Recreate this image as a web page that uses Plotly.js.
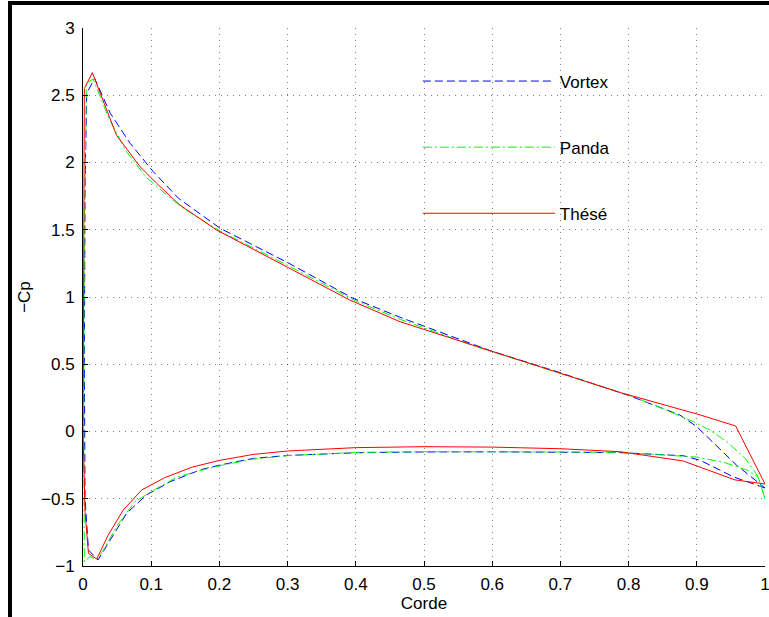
<!DOCTYPE html>
<html>
<head>
<meta charset="utf-8">
<script src="https://cdn.plot.ly/plotly-3.0.1.min.js"></script>
<style>
  html, body { margin: 0; padding: 0; background: #fff; }
  #wrap { position: relative; width: 769px; height: 617px; overflow: hidden; }
  #chart { position: absolute; left: 0; top: 0; width: 769px; height: 617px; }
  #frameL { position: absolute; left: 8px; top: 1px; width: 4px; height: 616px; background: #000; }
  #frameT { position: absolute; left: 8px; top: 1px; width: 761px; height: 4px; background: #000; }
</style>
</head>
<body>
<div id="wrap">
  <div id="chart"></div>
  <div id="frameL"></div>
  <div id="frameT"></div>
</div>
<script>
// ---- Data ----
const seriesNames = ["Vortex", "Panda", "Thésé"];

const vortexX = [1.0, 0.954, 0.905, 0.88, 0.787, 0.7, 0.6, 0.5, 0.4, 0.3, 0.25, 0.2, 0.172, 0.128, 0.093, 0.064, 0.04, 0.022, 0.008, 0.003, 0.002, 0.003, 0.0054, 0.017, 0.04, 0.069, 0.103, 0.14, 0.201, 0.3, 0.396, 0.465, 0.597, 0.695, 0.802, 0.875, 0.9, 0.958, 1.0];
const vortexY = [-0.42, -0.338, -0.214, -0.18, -0.157, -0.153, -0.151, -0.152, -0.158, -0.178, -0.2, -0.25, -0.285, -0.373, -0.472, -0.608, -0.807, -0.955, -0.881, -0.5, 0.5, 1.8, 2.514, 2.626, 2.366, 2.143, 1.932, 1.734, 1.511, 1.256, 0.99, 0.849, 0.601, 0.445, 0.264, 0.123, 0.036, -0.249, -0.42];

const pandaX = [1.0, 0.99, 0.975, 0.94, 0.9, 0.787, 0.7, 0.6, 0.5, 0.4, 0.3, 0.25, 0.2, 0.172, 0.137, 0.106, 0.076, 0.05, 0.03, 0.02, 0.01, 0.002, 0.001, 0.002, 0.005, 0.015, 0.037, 0.062, 0.093, 0.12, 0.147, 0.201, 0.3, 0.4, 0.465, 0.577, 0.699, 0.807, 0.861, 0.895, 0.919, 0.944, 0.971, 0.99, 1.0];
const pandaY = [-0.5, -0.34, -0.29, -0.23, -0.19, -0.155, -0.152, -0.15, -0.15, -0.155, -0.18, -0.205, -0.255, -0.29, -0.341, -0.43, -0.522, -0.7, -0.88, -0.95, -0.93, -0.97, 0.08, 1.5, 2.59, 2.62, 2.34, 2.093, 1.888, 1.771, 1.659, 1.49, 1.235, 0.97, 0.834, 0.63, 0.433, 0.259, 0.147, 0.073, 0.011, -0.076, -0.199, -0.336, -0.5];

const theseX = [1.0, 0.956, 0.88, 0.787, 0.7, 0.6, 0.5, 0.4, 0.3, 0.25, 0.2, 0.16, 0.12, 0.086, 0.059, 0.037, 0.02, 0.008, 0.003, 0.0, 0.001, 0.002, 0.0137, 0.049, 0.0836, 0.108, 0.142, 0.196, 0.3, 0.391, 0.465, 0.6, 0.699, 0.787, 0.905, 0.957, 1.0];
const theseY = [-0.39, -0.36, -0.219, -0.15, -0.128, -0.116, -0.113, -0.12, -0.145, -0.17, -0.215, -0.265, -0.343, -0.435, -0.584, -0.77, -0.948, -0.906, -0.6, 0.0, 1.2, 2.55, 2.668, 2.204, 1.969, 1.845, 1.684, 1.498, 1.221, 0.978, 0.816, 0.595, 0.433, 0.291, 0.123, 0.041, -0.39];

const xTickVals = [0, 0.1, 0.2, 0.3, 0.4, 0.5, 0.6, 0.7, 0.8, 0.9, 1];
const xTickText = ["0", "0.1", "0.2", "0.3", "0.4", "0.5", "0.6", "0.7", "0.8", "0.9", "1"];
const yTickVals = [-1, -0.5, 0, 0.5, 1, 1.5, 2, 2.5, 3];
const yTickText = ["\u22121", "\u22120.5", "0", "0.5", "1", "1.5", "2", "2.5", "3"];

const FONT = "'Liberation Sans', Arial, Helvetica, sans-serif";
const FS = 17;

const traces = [
  { x: vortexX, y: vortexY, name: seriesNames[0], legendgroup: "a", mode: "lines",
    line: { color: "#0000ff", width: 1, dash: "8px,4px" } },
  { x: pandaX, y: pandaY, name: seriesNames[1], legendgroup: "b", mode: "lines",
    line: { color: "#00ff00", width: 1, dash: "9px,3px,2px,3px" } },
  { x: theseX, y: theseY, name: seriesNames[2], legendgroup: "c", mode: "lines",
    line: { color: "#ff0000", width: 1 } }
];

const gridStyle = { showgrid: true, gridcolor: "rgba(0,0,0,0.5)", gridwidth: 1, griddash: "1px,5px" };

const layout = {
  width: 769, height: 617,
  margin: { l: 83, r: 4, t: 28, b: 51 },
  paper_bgcolor: "#fff", plot_bgcolor: "#fff",
  font: { family: FONT, size: FS, color: "#000" },
  showlegend: true,
  legend: {
    x: 0.491, y: 0.934, xanchor: "left", yanchor: "top",
    bgcolor: "rgba(0,0,0,0)", borderwidth: 0,
    itemwidth: 132, tracegroupgap: 41, traceorder: "grouped",
    font: { family: FONT, size: FS, color: "#000" }
  },
  xaxis: Object.assign({
    range: [0, 1], tickmode: "array", tickvals: xTickVals, ticktext: xTickText,
    ticks: "inside", ticklen: 5, tickcolor: "#000", ticklabeloverflow: "allow",
    ticklabelstandoff: 3,
    showline: true, linecolor: "#000", linewidth: 1, zeroline: false,
    title: { text: "Corde", font: { family: FONT, size: FS }, standoff: 1 },
    tickfont: { family: FONT, size: FS }
  }, gridStyle),
  yaxis: Object.assign({
    range: [-1, 3], tickmode: "array", tickvals: yTickVals, ticktext: yTickText,
    ticks: "inside", ticklen: 5, tickcolor: "#000", ticklabelstandoff: 4,
    showline: true, linecolor: "#000", linewidth: 1, zeroline: false,
    title: { text: "\u2212Cp", font: { family: FONT, size: FS }, standoff: 6 },
    tickfont: { family: FONT, size: FS }
  }, gridStyle)
};

Plotly.newPlot("chart", traces, layout, { staticPlot: true, displayModeBar: false });
</script>
</body>
</html>
